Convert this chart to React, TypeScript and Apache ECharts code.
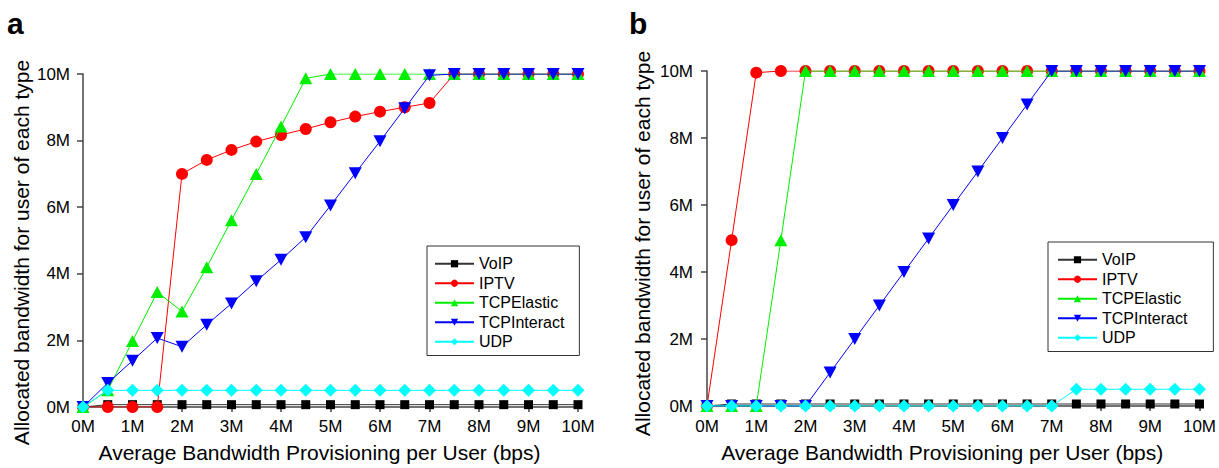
import React, { useEffect, useRef } from "react";
import * as echarts from "echarts";

const xSteps = [0, 0.5, 1, 1.5, 2, 2.5, 3, 3.5, 4, 4.5, 5, 5.5, 6, 6.5, 7, 7.5, 8, 8.5, 9, 9.5, 10];
const xTicks = ["0M", "1M", "2M", "3M", "4M", "5M", "6M", "7M", "8M", "9M", "10M"];
const seriesNames = ["VoIP", "IPTV", "TCPElastic", "TCPInteract", "UDP"];
const xTitle = "Average Bandwidth Provisioning per User (bps)";
const yTitle = "Allocated bandwidth for user of each type";

// Panel a (values in Mbps)
const voipA = [0, 0.07, 0.07, 0.07, 0.07, 0.07, 0.07, 0.07, 0.07, 0.07, 0.07, 0.07, 0.07, 0.07, 0.07, 0.07, 0.07, 0.07, 0.07, 0.07, 0.07];
const iptvA = [0, 0, 0, 0, 7.0, 7.42, 7.72, 7.97, 8.17, 8.35, 8.55, 8.72, 8.87, 9.0, 9.13, 10, 10, 10, 10, 10, 10];
const elasticA = [0, 0.5, 1.98, 3.45, 2.87, 4.2, 5.61, 7.0, 8.42, 9.87, 10, 10, 10, 10, 10, 10, 10, 10, 10, 10, 10];
const interactA = [0, 0.72, 1.39, 2.07, 1.81, 2.47, 3.11, 3.78, 4.42, 5.1, 6.05, 7.02, 7.98, 8.97, 9.96, 10, 10, 10, 10, 10, 10];
const udpA = [0, 0.5, 0.5, 0.5, 0.5, 0.5, 0.5, 0.5, 0.5, 0.5, 0.5, 0.5, 0.5, 0.5, 0.5, 0.5, 0.5, 0.5, 0.5, 0.5, 0.5];

// Panel b (values in Mbps)
const voipB = [0, 0.06, 0.06, 0.06, 0.06, 0.06, 0.06, 0.06, 0.06, 0.06, 0.06, 0.06, 0.06, 0.06, 0.06, 0.06, 0.06, 0.06, 0.06, 0.06, 0.06];
const iptvB = [0, 4.95, 9.95, 10, 10, 10, 10, 10, 10, 10, 10, 10, 10, 10, 10, 10, 10, 10, 10, 10, 10];
const elasticB = [0, 0, 0, 4.95, 10, 10, 10, 10, 10, 10, 10, 10, 10, 10, 10, 10, 10, 10, 10, 10, 10];
const interactB = [0, 0, 0, 0, 0, 1, 2, 3, 4, 5, 6, 7, 8, 9, 10, 10, 10, 10, 10, 10, 10];
const udpB = [0, 0, 0, 0, 0, 0, 0, 0, 0, 0, 0, 0, 0, 0, 0, 0.5, 0.5, 0.5, 0.5, 0.5, 0.5];

const FONT = "'Liberation Sans', Arial, sans-serif";
const colors = ["#000000", "#ff0000", "#00ee00", "#0000ff", "#00ffff"];
const lineColors = ["#333333", "#ff0000", "#00ee00", "#0000ff", "#00ffff"];
const symbols = ["rect", "circle", "triangle", "path://M0,0 L10,0 L5,10 Z", "diamond"];
const symbolSizes: any[] = [9, 12, [13, 12], [13, 12], [13, 13]];

function pairs(ys: number[]) {
  return xSteps.map((x, i) => [x, ys[i]]);
}

function buildSeries(panel: number, values: number[][]) {
  return values.map((ys, i) => ({
    name: seriesNames[i],
    type: "line",
    xAxisIndex: panel,
    yAxisIndex: panel,
    data: pairs(ys),
    symbol: symbols[i],
    symbolSize: symbolSizes[i],
    showAllSymbol: true,
    lineStyle: { color: lineColors[i], width: 1 },
    itemStyle: { color: colors[i] },
    z: 2 + i,
  }));
}

function xAxis(grid: number, nameGap: number, labelMargin: number) {
  return {
    type: "value",
    gridIndex: grid,
    min: 0,
    max: 10,
    interval: 1,
    name: xTitle,
    nameLocation: "middle",
    nameGap,
    nameTextStyle: { fontFamily: FONT, fontSize: 21, color: "#000", padding: [0, 22, 0, 0] },
    axisLine: { show: true, lineStyle: { color: "#444", width: 1.5 } },
    axisTick: { show: true, length: 5, lineStyle: { color: "#444", width: 1.5 } },
    axisLabel: {
      fontFamily: FONT,
      fontSize: 17,
      color: "#000",
      margin: labelMargin,
      formatter: (v: number) => xTicks[Math.round(v)],
    },
    splitLine: { show: false },
  };
}

function yAxis(grid: number, labelMargin: number) {
  return {
    type: "value",
    gridIndex: grid,
    min: 0,
    max: 10,
    interval: 2,
    axisLine: { show: true, lineStyle: { color: "#444", width: 1.5 } },
    axisTick: { show: true, length: 6, lineStyle: { color: "#444", width: 1.5 } },
    axisLabel: {
      fontFamily: FONT,
      fontSize: 17,
      color: "#000",
      margin: labelMargin,
      formatter: (v: number) => `${v}M`,
    },
    splitLine: { show: false },
  };
}

function legend(left: number, top: number, padding: number[]) {
  return {
    orient: "vertical",
    left,
    top,
    data: seriesNames,
    itemWidth: 39,
    itemHeight: 9,
    itemGap: 0,
    padding,
    borderColor: "#333",
    borderWidth: 1,
    backgroundColor: "#fff",
    selectedMode: false,
    textStyle: { fontFamily: FONT, fontSize: 16, color: "#000", lineHeight: 19.5 },
  };
}

function yTitleText(x: number, y: number) {
  return {
    type: "text",
    x,
    y,
    rotation: Math.PI / 2,
    style: {
      text: yTitle,
      font: `21px ${FONT}`,
      fill: "#000",
      textAlign: "center",
      textVerticalAlign: "middle",
    },
  };
}

export default function App() {
  const ref = useRef<HTMLDivElement>(null);
  useEffect(() => {
    if (!ref.current) return;
    const chart = echarts.init(ref.current, null, { renderer: "svg" });
    chart.setOption({
      animation: false,
      backgroundColor: "#fff",
      title: [
        { text: "a", left: 7, top: 8, padding: 0, textStyle: { fontFamily: FONT, fontSize: 30, fontWeight: "bold", color: "#000" } },
        { text: "b", left: 629, top: 8, padding: 0, textStyle: { fontFamily: FONT, fontSize: 30, fontWeight: "bold", color: "#000" } },
      ],
      grid: [
        { left: 83, top: 74, width: 495, height: 337, containLabel: false },
        { left: 707, top: 71, width: 493, height: 335, containLabel: false },
      ],
      xAxis: [xAxis(0, 35, 11), xAxis(1, 36, 12)],
      yAxis: [yAxis(0, 13), yAxis(1, 14)],
      legend: [legend(427, 246, [8, 15, 4, 7]), legend(1048, 242, [8, 26, 4, 9])],
      graphic: [yTitleText(21, 252.5), yTitleText(642, 243.5)],
      series: [
        ...buildSeries(0, [voipA, iptvA, elasticA, interactA, udpA]),
        ...buildSeries(1, [voipB, iptvB, elasticB, interactB, udpB]),
      ],
    });
    return () => chart.dispose();
  }, []);
  return (
    <div
      ref={ref}
      style={{ position: "fixed", left: 0, top: 0, width: 1219, height: 468, background: "#fff" }}
    />
  );
}
